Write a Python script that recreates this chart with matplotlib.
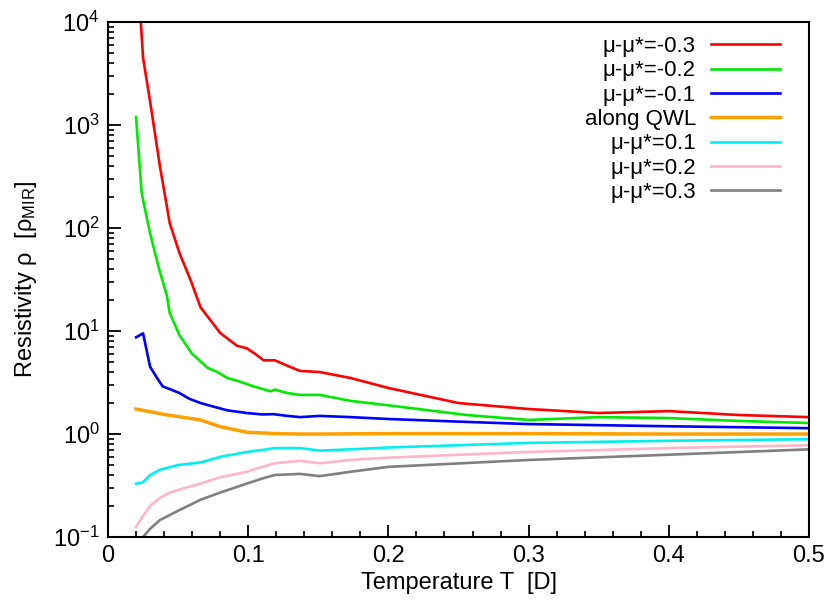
import numpy as np
import matplotlib
matplotlib.use("Agg")
import matplotlib.pyplot as plt
from matplotlib.ticker import LogLocator, NullFormatter, MultipleLocator

plt.rcParams['font.family'] = ['Liberation Sans', 'DejaVu Sans']
plt.rcParams['mathtext.fontset'] = 'custom'
plt.rcParams['mathtext.rm'] = 'Liberation Sans'
plt.rcParams['mathtext.it'] = 'Liberation Sans'

# temperature / resistivity
t_m03 = [0.023, 0.025, 0.03, 0.037, 0.044, 0.051, 0.059, 0.066, 0.08, 0.085, 0.092, 0.099,
         0.105, 0.111, 0.119, 0.128, 0.137, 0.151, 0.173, 0.2, 0.25, 0.3, 0.35, 0.4, 0.45, 0.5]
r_m03 = [12000, 4500, 1700, 400, 112, 57, 31, 17, 9.6, 8.5, 7.2, 6.8,
         6.0, 5.2, 5.2, 4.6, 4.1, 4.0, 3.5, 2.8, 2.0, 1.75, 1.6, 1.67, 1.53, 1.46]

t_m02 = [0.02, 0.024, 0.03, 0.036, 0.042, 0.044, 0.051, 0.06, 0.071, 0.078, 0.085, 0.092, 0.104,
         0.116, 0.119, 0.128, 0.137, 0.151, 0.173, 0.2, 0.256, 0.3, 0.35, 0.4, 0.45, 0.5]
r_m02 = [1200, 218, 89, 42, 22, 15, 9.1, 6.0, 4.4, 4.0, 3.5, 3.3, 2.9,
         2.6, 2.7, 2.5, 2.4, 2.4, 2.1, 1.9, 1.53, 1.37, 1.46, 1.43, 1.34, 1.28]

t_m01 = [0.02, 0.025, 0.03, 0.035, 0.039, 0.045, 0.051, 0.058, 0.066, 0.075, 0.085, 0.099,
         0.11, 0.118, 0.128, 0.137, 0.151, 0.173, 0.2, 0.25, 0.3, 0.4, 0.5]
r_m01 = [8.7, 9.5, 4.5, 3.5, 2.9, 2.7, 2.5, 2.2, 2.0, 1.85, 1.7, 1.6,
         1.55, 1.56, 1.5, 1.46, 1.5, 1.46, 1.4, 1.32, 1.25, 1.19, 1.14]

t_qwl = [0.02, 0.04, 0.066, 0.08, 0.099, 0.12, 0.137, 0.15, 0.2, 0.3, 0.4, 0.5]
r_qwl = [1.75, 1.55, 1.37, 1.18, 1.04, 1.01, 1.0, 1.0, 1.01, 1.01, 1.0, 1.0]

t_p01 = [0.02, 0.025, 0.03, 0.037, 0.05, 0.066, 0.08, 0.099, 0.11, 0.119, 0.137, 0.151,
         0.173, 0.2, 0.3, 0.4, 0.5]
r_p01 = [0.33, 0.34, 0.40, 0.45, 0.50, 0.53, 0.60, 0.67, 0.70, 0.73, 0.73, 0.69,
         0.71, 0.74, 0.82, 0.86, 0.89]

t_p02 = [0.02, 0.025, 0.03, 0.037, 0.044, 0.055, 0.066, 0.08, 0.099, 0.11, 0.119, 0.137,
         0.151, 0.173, 0.2, 0.3, 0.4, 0.5]
r_p02 = [0.125, 0.16, 0.20, 0.24, 0.27, 0.30, 0.33, 0.38, 0.43, 0.48, 0.52, 0.55,
         0.52, 0.56, 0.59, 0.67, 0.73, 0.78]

t_p03 = [0.025, 0.03, 0.037, 0.05, 0.066, 0.08, 0.099, 0.11, 0.119, 0.137, 0.151, 0.173,
         0.2, 0.3, 0.4, 0.5]
r_p03 = [0.1, 0.12, 0.146, 0.18, 0.23, 0.27, 0.33, 0.37, 0.40, 0.41, 0.39, 0.43,
         0.48, 0.56, 0.63, 0.71]

labels = ['μ-μ*=-0.3', 'μ-μ*=-0.2', 'μ-μ*=-0.1', 'along QWL',
          'μ-μ*=0.1', 'μ-μ*=0.2', 'μ-μ*=0.3']
colors = ['#ff0000', '#00e800', '#0000ff', '#ffa000', '#00f0f0', '#ffb6c8', '#808080']
widths = [1.9, 1.9, 1.9, 2.5, 1.9, 1.9, 1.9]
series = [(t_m03, r_m03), (t_m02, r_m02), (t_m01, r_m01), (t_qwl, r_qwl),
          (t_p01, r_p01), (t_p02, r_p02), (t_p03, r_p03)]

fig = plt.figure(figsize=(8.31, 6.0), dpi=100)
ax = fig.add_axes([0.130, 0.105, 0.8435, 0.858])

for (t, r), c, w, lab in zip(series, colors, widths, labels):
    ax.plot(t, r, color=c, lw=w, label=lab)

ax.set_yscale('log')
ax.set_xlim(0, 0.5)
ax.set_ylim(0.1, 1e4)
ax.set_xticks([0, 0.1, 0.2, 0.3, 0.4, 0.5])
ax.set_xticklabels(['0', '0.1', '0.2', '0.3', '0.4', '0.5'])
ax.xaxis.set_minor_locator(MultipleLocator(0.02))
ax.yaxis.set_major_locator(LogLocator(base=10, numticks=10))
ax.yaxis.set_minor_locator(LogLocator(base=10, subs=np.arange(2, 10), numticks=20))
ax.yaxis.set_minor_formatter(NullFormatter())

ax.tick_params(which='major', direction='in', length=9, width=1.3, labelsize=17, pad=6)
ax.tick_params(which='minor', direction='in', length=4.5, width=1.2)
for sp in ax.spines.values():
    sp.set_linewidth(1.5)

ax.set_xlabel('Temperature T  [D]', fontsize=17, labelpad=3)
ax.set_ylabel('Resistivity ρ  [ρ$_{\\mathrm{MIR}}$]', fontsize=17, labelpad=10)

ax.legend(loc='upper right', bbox_to_anchor=(0.978, 0.999), frameon=False,
          markerfirst=False, fontsize=16, handlelength=3.1, handletextpad=0.7,
          labelspacing=0.15, borderaxespad=0.2)

fig.savefig('out.png', dpi=100)
